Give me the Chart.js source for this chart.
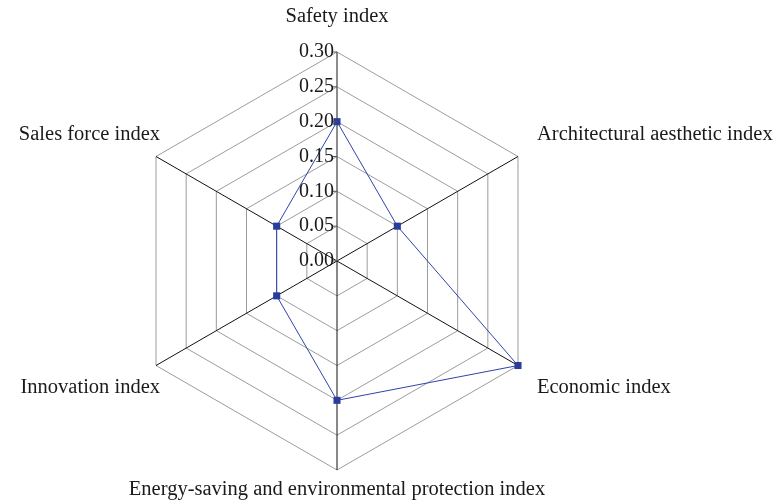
<!DOCTYPE html>
<html>
<head>
<meta charset="utf-8">
<script src="https://cdn.jsdelivr.net/npm/chart.js@4"></script>
<style>
  html, body { margin: 0; padding: 0; background: #fff; }
  #wrap { width: 781px; height: 502px; }
</style>
</head>
<body>
<div id="wrap"><canvas id="radar" width="781" height="502"></canvas></div>
<script>
const categories = [
  'Safety index',
  'Architectural aesthetic index',
  'Economic index',
  'Energy-saving and environmental protection index',
  'Innovation index',
  'Sales force index'
];
const weights = [0.20, 0.10, 0.30, 0.20, 0.10, 0.10];
const tickValues = [0.00, 0.05, 0.10, 0.15, 0.20, 0.25, 0.30];

const SERIF = '"Liberation Serif", "DejaVu Serif", serif';

// axis labels placed by hand around the outer ring
const labelPlugin = {
  id: 'labels',
  afterDraw(chart) {
    const r = chart.scales.r;
    const ctx = chart.ctx;
    const max = tickValues[tickValues.length - 1];
    ctx.save();
    ctx.fillStyle = '#1a1a1a';
    ctx.font = '20.5px ' + SERIF;
    const offs = [
      [0, -35, 'center'], [19, -22, 'left'], [19, 22, 'left'],
      [0, 20, 'center'], [4, 22, 'right'], [4, -22, 'right']
    ];
    ctx.textBaseline = 'middle';
    categories.forEach((c, i) => {
      const p = r.getPointPositionForValue(i, max);
      ctx.textAlign = offs[i][2];
      ctx.fillText(c, p.x + offs[i][0], p.y + offs[i][1]);
    });

    // value ticks to the left of the vertical axis
    ctx.font = '20px ' + SERIF;
    ctx.textAlign = 'right';
    ctx.strokeStyle = '#555';
    ctx.lineWidth = 1;
    tickValues.forEach(v => {
      const p = r.getPointPositionForValue(0, v);
      ctx.fillText(v.toFixed(2), p.x - 3, p.y);
      ctx.beginPath();
      ctx.moveTo(p.x - 4, p.y);
      ctx.lineTo(p.x, p.y);
      ctx.stroke();
    });
    ctx.restore();
  }
};

new Chart(document.getElementById('radar').getContext('2d'), {
  type: 'radar',
  data: {
    labels: categories,
    datasets: [{
      data: weights,
      borderColor: '#2f44a8',
      borderWidth: 1,
      backgroundColor: 'transparent',
      fill: false,
      pointStyle: 'rect',
      pointRadius: 5,
      pointBackgroundColor: '#2b3d9c',
      pointBorderColor: '#2b3d9c',
      pointBorderWidth: 0
    }]
  },
  options: {
    responsive: false,
    animation: false,
    layout: { padding: { left: 128, right: 235, top: 52, bottom: 32 } },
    plugins: { legend: { display: false }, tooltip: { enabled: false } },
    scales: {
      r: {
        min: 0,
        max: 0.30,
        ticks: { stepSize: 0.05, display: false },
        pointLabels: { display: false },
        grid: { color: '#9c9c9c', lineWidth: 1 },
        angleLines: {
          color: ctx => ctx.index === 0 ? '#666' : '#111',
          lineWidth: ctx => ctx.index === 0 ? 1.5 : 1
        }
      }
    }
  },
  plugins: [labelPlugin]
});
</script>
</body>
</html>
